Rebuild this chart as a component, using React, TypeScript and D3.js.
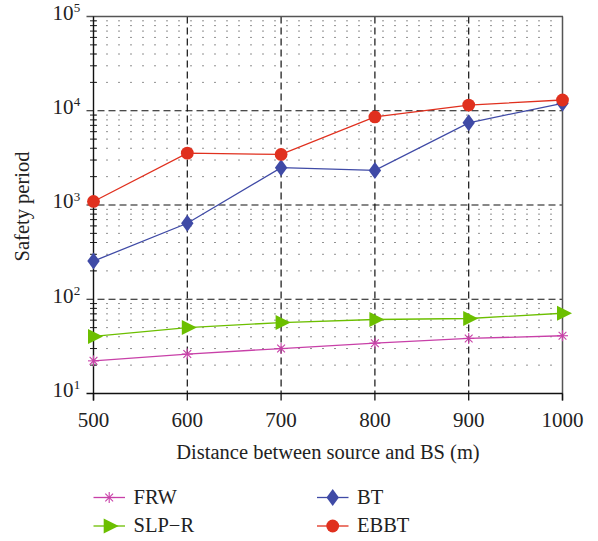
import React from "react"
import * as d3 from "d3"

const W = 598
const H = 541
const M = { left: 93.5, right: 35.5, top: 16.5, bottom: 147.5 }

const distances = [500, 600, 700, 800, 900, 1000]
const frw = [22.2, 26.2, 30, 34.2, 38.4, 41]
const slpR = [40.3, 50, 56.6, 61, 62.5, 71]
const bt = [254, 640, 2490, 2330, 7450, 12000]
const ebbt = [1090, 3550, 3440, 8600, 11500, 13000]
const yDecades = [1, 2, 3, 4, 5]

const series = [
  { name: "FRW", values: frw, color: "#c840a8", marker: "star" },
  { name: "SLP\u2212R", values: slpR, color: "#6cbf00", marker: "tri" },
  { name: "BT", values: bt, color: "#3f4aa6", marker: "diamond" },
  { name: "EBBT", values: ebbt, color: "#e0301e", marker: "circle" },
]

const FONT = "'Liberation Serif', 'DejaVu Serif', serif"

function Marker({ kind, x, y, color }: { kind: string; x: number; y: number; color: string }) {
  if (kind === "circle") return <circle cx={x} cy={y} r={6.4} fill={color} />
  if (kind === "diamond")
    return <path d={`M${x},${y - 8.5}L${x + 6.2},${y}L${x},${y + 8.5}L${x - 6.2},${y}Z`} fill={color} />
  if (kind === "tri")
    return <path d={`M${x - 5.5},${y - 7.5}L${x + 9.5},${y}L${x - 5.5},${y + 7.5}Z`} fill={color} />
  const r = 5.5
  const a = r * Math.cos(Math.PI / 4)
  return (
    <g stroke={color} strokeWidth={1.1}>
      <line x1={x} y1={y - r} x2={x} y2={y + r} />
      <line x1={x - r} y1={y} x2={x + r} y2={y} />
      <line x1={x - a} y1={y - a} x2={x + a} y2={y + a} />
      <line x1={x - a} y1={y + a} x2={x + a} y2={y - a} />
    </g>
  )
}

export default function App() {
  const x = d3.scaleLinear().domain([500, 1000]).range([M.left, W - M.right])
  const y = d3.scaleLog().domain([10, 1e5]).range([H - M.bottom, M.top])
  const x0 = M.left
  const x1 = W - M.right
  const y0 = H - M.bottom
  const y1 = M.top

  const minors: number[] = []
  for (let k = 1; k < 5; k++) for (let m = 2; m <= 9; m++) minors.push(m * 10 ** k)

  const line = d3
    .line<number>()
    .x((_, i) => x(distances[i]))
    .y(d => y(d))

  const legend = [
    { s: series[0], lx: 93.5, ly: 497.5 },
    { s: series[2], lx: 317, ly: 497.5 },
    { s: series[1], lx: 93.5, ly: 526 },
    { s: series[3], lx: 317, ly: 526 },
  ]

  return (
    <svg
      width={W}
      height={H}
      style={{ position: "absolute", left: 0, top: 0, background: "#fff" }}
      fontFamily={FONT}
    >
      {/* minor dotted grid */}
      {minors.map(v => (
        <g key={v}>
          <line x1={x0} x2={x1} y1={y(v)} y2={y(v)} stroke="#222" strokeWidth={1} strokeDasharray="1,11" strokeDashoffset={-1} />
          <line x1={x0 - 3.5} x2={x0 + 3.5} y1={y(v)} y2={y(v)} stroke="#222" strokeWidth={1} />
        </g>
      ))}
      {/* major dashed grid */}
      {[100, 1000, 10000].map(v => (
        <line key={v} x1={x0 - 7} x2={x1} y1={y(v)} y2={y(v)} stroke="#111" strokeWidth={1.2} strokeDasharray="7,4" />
      ))}
      {[600, 700, 800, 900].map(d => (
        <line key={d} x1={x(d)} x2={x(d)} y1={y1} y2={y0} stroke="#111" strokeWidth={1.2} strokeDasharray="7,4" />
      ))}
      {/* frame */}
      <line x1={x0 - 7} x2={x1 + 0.5} y1={y1} y2={y1} stroke="#555" strokeWidth={1.5} />
      <line x1={x1} x2={x1} y1={y1} y2={y0 + 7} stroke="#555" strokeWidth={1.5} />
      <line x1={x0} x2={x0} y1={y1} y2={y0 + 7} stroke="#111" strokeWidth={1.4} />
      <line x1={x0 - 7} x2={x1} y1={y0} y2={y0} stroke="#111" strokeWidth={1.4} />
      {distances.map(d => (
        <line key={d} x1={x(d)} x2={x(d)} y1={y0} y2={y0 + 7} stroke="#111" strokeWidth={1.3} />
      ))}
      {/* tick labels */}
      {distances.map(d => (
        <text key={d} x={x(d)} y={y0 + 33} textAnchor="middle" fontSize={21} fill="#222">
          {d}
        </text>
      ))}
      {yDecades.map(k => (
        <g key={k}>
          <text x={73.5} y={y(10 ** k) + 3.3} textAnchor="end" fontSize={21} fill="#222">
            10
          </text>
          <text x={73.8} y={y(10 ** k) - 4.5} fontSize={13} fill="#222">
            {k}
          </text>
        </g>
      ))}
      {/* axis titles */}
      <text x={(x0 + x1) / 2} y={459} textAnchor="middle" fontSize={20.5} fill="#222">
        Distance between source and BS (m)
      </text>
      <text transform="translate(29,206.5) rotate(-90)" textAnchor="middle" fontSize={20.5} fill="#222">
        Safety period
      </text>
      {/* series */}
      {series.map(s => (
        <g key={s.name}>
          <path d={line(s.values) || ""} fill="none" stroke={s.color} strokeWidth={1.3} />
          {s.values.map((v, i) => (
            <Marker key={i} kind={s.marker} x={x(distances[i])} y={y(v)} color={s.color} />
          ))}
        </g>
      ))}
      {/* legend */}
      {legend.map(({ s, lx, ly }) => (
        <g key={s.name}>
          <line x1={lx} x2={lx + 31.5} y1={ly} y2={ly} stroke={s.color} strokeWidth={1.3} />
          <Marker kind={s.marker} x={lx + 15.7} y={ly} color={s.color} />
          <text x={lx + 40} y={ly + 6} fontSize={20.5} fill="#222">
            {s.name}
          </text>
        </g>
      ))}
    </svg>
  )
}
